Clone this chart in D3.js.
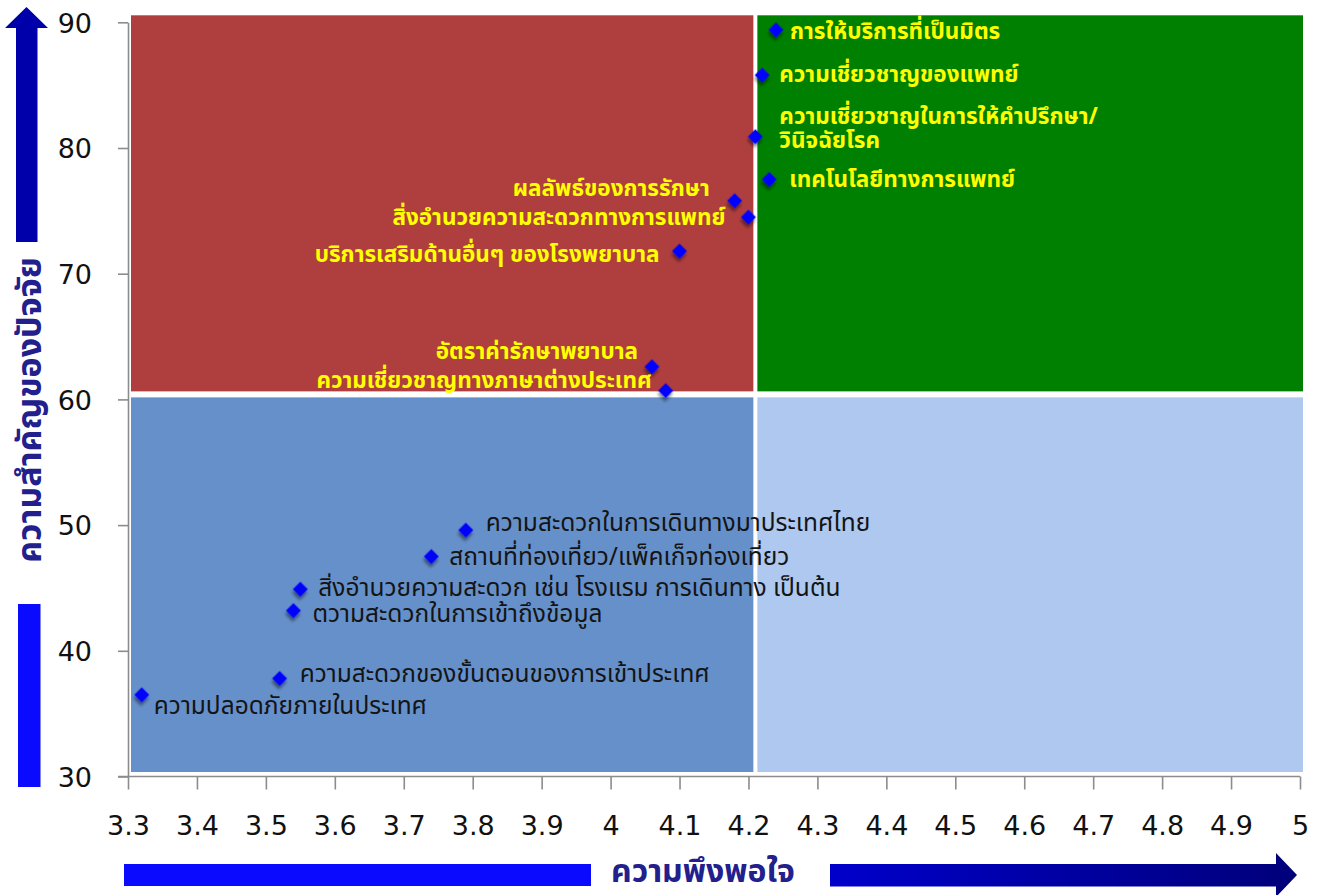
<!DOCTYPE html>
<html><head><meta charset="utf-8">
<script src="https://cdn.jsdelivr.net/npm/d3@7"></script>
<style>
html,body{margin:0;padding:0;background:#fff;}
svg{display:block;}
</style></head>
<body><svg id="chart" width="1325" height="895"></svg>
<script>
// ---- data ----
const factors = [
  "การให้บริการที่เป็นมิตร",
  "ความเชี่ยวชาญของแพทย์",
  "ความเชี่ยวชาญในการให้คำปรึกษา/\nวินิจฉัยโรค",
  "เทคโนโลยีทางการแพทย์",
  "ผลลัพธ์ของการรักษา",
  "สิ่งอำนวยความสะดวกทางการแพทย์",
  "บริการเสริมด้านอื่นๆ ของโรงพยาบาล",
  "อัตราค่ารักษาพยาบาล",
  "ความเชี่ยวชาญทางภาษาต่างประเทศ",
  "ความสะดวกในการเดินทางมาประเทศไทย",
  "สถานที่ท่องเที่ยว/แพ็คเก็จท่องเที่ยว",
  "สิ่งอำนวยความสะดวก เช่น โรงแรม การเดินทาง เป็นต้น",
  "ตวามสะดวกในการเข้าถึงข้อมูล",
  "ความสะดวกของขั้นตอนของการเข้าประเทศ",
  "ความปลอดภัยภายในประเทศ"
];
const satisfaction = [4.24, 4.22, 4.21, 4.23, 4.18, 4.20, 4.10, 4.06, 4.08, 3.79, 3.74, 3.55, 3.54, 3.52, 3.32];
const importance   = [89.4, 85.8, 80.9, 77.5, 75.8, 74.5, 71.8, 62.6, 60.7, 49.6, 47.5, 44.9, 43.2, 37.8, 36.5];
const xTickValues = [3.3,3.4,3.5,3.6,3.7,3.8,3.9,4.0,4.1,4.2,4.3,4.4,4.5,4.6,4.7,4.8,4.9,5.0];
const xTickLabels = ["3.3","3.4","3.5","3.6","3.7","3.8","3.9","4","4.1","4.2","4.3","4.4","4.5","4.6","4.7","4.8","4.9","5"];
const yTickValues = [30,40,50,60,70,80,90];
const yTickLabels = ["30","40","50","60","70","80","90"];
const xDomain = [3.3, 5.0];
const yDomain = [30, 90];
const xSplit = 4.21;   // satisfaction divider
const ySplit = 60.4;   // importance divider
const xTitle = "ความพึงพอใจ";
const yTitle = "ความสำคัญของปัจจัย";

// ---- label layout (pixel offsets from each marker) ----
const labelOffsets = [
  [14,2],[17,0],[24,-20],[20,1],[-25,-12],[-23,1],[-20,4],[-14,-15],[-14,-10],
  [20,-7],[18,0],[18,-1],[19,3],[20,-4],[12,11]
];

const svg = d3.select("#chart");
const x = d3.scaleLinear().domain(xDomain).range([128, 1300]);
const y = d3.scaleLinear().domain(yDomain).range([776.5, 22.3]);

const defs = svg.append("defs");
const sh = defs.append("filter").attr("id","shadow").attr("x","-50%").attr("y","-50%").attr("width","200%").attr("height","200%");
sh.append("feDropShadow").attr("dx",2).attr("dy",3).attr("stdDeviation",1.6).attr("flood-color","#000").attr("flood-opacity",0.45);
const gradR = defs.append("linearGradient").attr("id","gradR").attr("x1","0").attr("x2","1").attr("y1","0").attr("y2","0");
gradR.append("stop").attr("offset","0%").attr("stop-color","#0000CC");
gradR.append("stop").attr("offset","100%").attr("stop-color","#00007A");

// ---- quadrants ----
const qL = x(xDomain[0]) + 3, qR = x(xDomain[1]) + 3, qT = y(yDomain[1]) - 7, qB = y(yDomain[0]) - 4.5;
const sx = x(xSplit), sy = y(ySplit);
const gap = 2, gapY = 3;
const quads = [
  {x0:qL, x1:sx-gap, y0:qT, y1:sy-gapY, c:"#AE3F3E"},
  {x0:sx+gap, x1:qR, y0:qT, y1:sy-gapY, c:"#008000"},
  {x0:qL, x1:sx-gap, y0:sy+gapY, y1:qB, c:"#6690C9"},
  {x0:sx+gap, x1:qR, y0:sy+gapY, y1:qB, c:"#AEC8EF"}
];
svg.append("g").selectAll("rect").data(quads).join("rect")
  .attr("x",d=>d.x0).attr("y",d=>d.y0).attr("width",d=>d.x1-d.x0).attr("height",d=>d.y1-d.y0)
  .attr("fill",d=>d.c);

// ---- axes ----
const axisColor = "#8c8c8c";
const gx = svg.append("g").attr("transform",`translate(0,${y(yDomain[0])})`)
  .call(d3.axisBottom(x).tickValues(xTickValues).tickFormat((d,i)=>xTickLabels[i]).tickSize(13).tickPadding(26).tickSizeOuter(0));
const gy = svg.append("g").attr("transform",`translate(${x(xDomain[0])},0)`)
  .call(d3.axisLeft(y).tickValues(yTickValues).tickFormat((d,i)=>yTickLabels[i]).tickSize(10).tickPadding(26).tickSizeOuter(0));
[gx,gy].forEach(g=>{
  g.select(".domain").attr("stroke",axisColor).attr("stroke-width",1.6);
  g.selectAll(".tick line").attr("stroke",axisColor).attr("stroke-width",1.6);
  g.selectAll(".tick text").attr("fill","#111").attr("font-family","'DejaVu Sans', Verdana, sans-serif").attr("font-size",27);
});
gx.select(".domain").attr("d",`M${x(xDomain[0])-10},0H${x(xDomain[1])}`);
gy.selectAll(".tick text").attr("dy","0.36em");

// ---- markers ----
const pts = factors.map((f,i)=>({f, sx:satisfaction[i], im:importance[i], i}));
svg.append("g").selectAll("rect").data(pts).join("rect")
  .attr("x",-5.3).attr("y",-5.3).attr("width",10.6).attr("height",10.6)
  .attr("transform",d=>`translate(${x(d.sx)},${y(d.im)}) rotate(45)`)
  .attr("fill","#0000FF").attr("filter","url(#shadow)");

// ---- labels ----
const thaiFont = "Tahoma, 'Noto Sans Thai', 'Leelawadee UI', 'Loma', 'Garuda', sans-serif";
const lab = svg.append("g").selectAll("text").data(pts).join("text")
  .attr("x",d=>x(d.sx)+labelOffsets[d.i][0])
  .attr("y",d=>y(d.im)+labelOffsets[d.i][1])
  .attr("text-anchor",d=>d.sx < xSplit && d.im > ySplit ? "end" : "start")
  .attr("dominant-baseline","central")
  .attr("font-family",thaiFont)
  .attr("font-size",d=>d.im > ySplit ? 22.5 : 24.5)
  .attr("font-weight",d=>d.im > ySplit ? "bold" : "normal")
  .attr("fill",d=>d.im > ySplit ? "#FFFF00" : "#141414");
lab.each(function(d){
  const t = d3.select(this);
  d.f.split("\n").forEach((line,k)=>{
    t.append("tspan").attr("x",x(d.sx)+labelOffsets[d.i][0]).attr("dy",k===0?0:24).text(line);
  });
});

// ---- axis title arrows ----
svg.append("path").attr("d","M16,242V28H5L26.5,7L48,28H37.5V242Z").attr("fill","#0000AA");
svg.append("rect").attr("x",18).attr("y",604).attr("width",22.5).attr("height",183).attr("fill","#0A0AFF");
svg.append("rect").attr("x",124).attr("y",864).attr("width",467).attr("height",22).attr("fill","#0A0AFF");
svg.append("path").attr("d","M830,864H1276V853L1297,875L1276,897V886.5H830Z").attr("fill","url(#gradR)");

svg.append("text").attr("x",703).attr("y",872).attr("text-anchor","middle").attr("dominant-baseline","central")
  .attr("font-family",thaiFont).attr("font-size",32).attr("font-weight","bold").attr("fill","#22208C").text(xTitle);
svg.append("text").attr("transform","translate(30,410) rotate(-90)").attr("text-anchor","middle").attr("dominant-baseline","central")
  .attr("font-family",thaiFont).attr("font-size",34).attr("font-weight","bold").attr("fill","#22208C").text(yTitle);
</script></body></html>
